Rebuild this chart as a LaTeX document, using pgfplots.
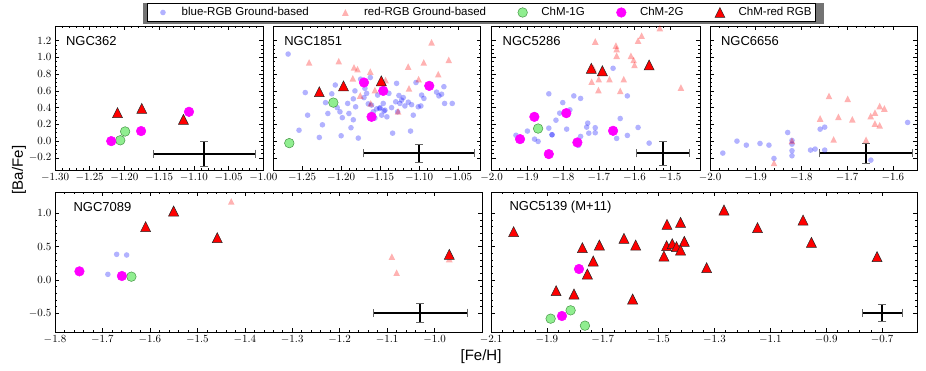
\documentclass[border=0pt]{standalone}
\usepackage{fontspec}
\setmainfont{Liberation Sans}
\usepackage{pgfplots}
\pgfplotsset{compat=1.18}

\definecolor{lgreen}{RGB}{144,238,144}
\definecolor{dgreen}{RGB}{70,150,70}
\definecolor{mag}{RGB}{255,0,255}
\definecolor{pblue}{RGB}{0,0,255}
\definecolor{pred}{RGB}{255,0,0}

% matplotlib-like "^" marker: as wide as it is tall, centred on the point
\pgfdeclareplotmark{mtri}{%
  \pgfpathmoveto{\pgfqpoint{0pt}{\pgfplotmarksize}}%
  \pgfpathlineto{\pgfqpoint{-\pgfplotmarksize}{-\pgfplotmarksize}}%
  \pgfpathlineto{\pgfqpoint{\pgfplotmarksize}{-\pgfplotmarksize}}%
  \pgfpathclose
  \pgfusepathqfillstroke}

\pgfplotsset{
  panel/.style={scale only axis, axis line style={line width=0.7pt},
    tick style={black, line width=0.5pt}, major tick length=4pt, minor tick length=2pt,
    minor x tick num=4,
    tick label style={font=\fontsize{10.5}{12}\selectfont},
    yticklabel style={/pgf/number format/.cd, fixed, fixed zerofill, precision=1}},
  toprow/.style={panel, height=144pt, ymin=-0.345, ymax=1.375,
    ytick={-0.2,0,0.2,0.4,0.6,0.8,1.0,1.2}, minor y tick num=3},
  botrow/.style={panel, height=140pt, ymin=-0.78, ymax=1.32,
    ytick={-0.5,0,0.5,1.0}, minor y tick num=4},
  noylab/.style={yticklabel style={/tikz/opacity=0}},
  twodec/.style={xticklabel style={/pgf/number format/.cd, fixed, fixed zerofill, precision=2}},
  onedec/.style={xticklabel style={/pgf/number format/.cd, fixed, fixed zerofill, precision=1}},
  blueg/.style={only marks, mark=*, mark size=2.8pt,
    mark options={fill=pblue, draw=pblue, fill opacity=0.3, draw opacity=0}},
  redg/.style={only marks, mark=mtri, mark size=3.3pt,
    mark options={fill=pred, draw=pred, fill opacity=0.3, draw opacity=0}},
  chm1/.style={only marks, mark=*, mark size=4.8pt,
    mark options={fill=lgreen, draw=dgreen, line width=0.5pt}},
  chm2/.style={only marks, mark=*, mark size=4.8pt,
    mark options={fill=mag, draw=mag, line width=0.5pt}},
  chmr/.style={only marks, mark=mtri, mark size=5pt,
    mark options={fill=pred, draw=black!85, line width=0.5pt}},
  errb/.style={/pgfplots/every error bar/.append style={line width=2.1pt, black},
    error bars/.cd, x dir=both, x explicit, y dir=both, y explicit,
    error bar style={line width=2.1pt, black},
    error mark options={black!60, line width=0.7pt, mark size=4pt, rotate=90}},
}
\newcommand{\ttl}[2]{\node[anchor=west, font=\fontsize{13}{15}\selectfont, xshift=#1] at (rel axis cs:0,1) [yshift=-15pt] {#2};}

\begin{document}
\begin{tikzpicture}
\path[use as bounding box] (0pt,0pt) rectangle (926pt,370pt);
% legend shadow
\fill[black!55] (142.5pt,345.5pt) rectangle (823.5pt,366.5pt);

% ---------- NGC362 ----------
\begin{axis}[toprow, twodec, at={(55pt,200pt)}, anchor=south west, width=208.3pt,
  xmin=-1.30, xmax=-1.00, xtick={-1.30,-1.25,-1.20,-1.15,-1.10,-1.05,-1.00},
  legend columns=5,
  legend image code/.code={\path[draw=none, fill=none] (0pt,-3pt) rectangle (22pt,3pt); \draw[#1] plot coordinates {(13.5pt,0pt)};},
  legend style={at={(2.0475,1.0938)}, anchor=center, draw=black, line width=0.7pt,
    inner sep=2pt, fill=white,
    font=\fontsize{11.5}{13}\selectfont,
    /tikz/every odd column/.append style={column sep=8.2pt},
    /tikz/every even column/.append style={column sep=21pt}},
]
\addlegendimage{blueg}\addlegendentry{blue-RGB Ground-based}
\addlegendimage{redg}\addlegendentry{red-RGB Ground-based}
\addlegendimage{chm1}\addlegendentry{ChM-1G}
\addlegendimage{chm2}\addlegendentry{ChM-2G}
\addlegendimage{chmr}\addlegendentry{ChM-red RGB}
\addplot[chm1, forget plot] coordinates {(-1.199,0.115) (-1.206,0.01)};
\addplot[chm2, forget plot] coordinates {(-1.107,0.35) (-1.176,0.12) (-1.219,0.0)};
\addplot[chmr, forget plot] coordinates {(-1.21,0.34) (-1.175,0.39) (-1.115,0.26)};
\addplot[forget plot, mark=none, errb] coordinates {(-1.085,-0.15) +- (0.074,0.15)};
\ttl{7.5pt}{NGC362}
\end{axis}

% ---------- NGC1851 ----------
\begin{axis}[toprow, twodec, noylab, at={(273.3pt,200pt)}, anchor=south west, width=207.4pt,
  xmin=-1.287, xmax=-1.021, xtick={-1.25,-1.20,-1.15,-1.10,-1.05}]
\addplot[blueg] coordinates {
(-1.268,1.04) (-1.246,0.58) (-1.243,0.31) (-1.254,0.13) (-1.228,0.044) (-1.224,0.195)
(-1.220,0.46) (-1.217,0.33) (-1.2075,0.67) (-1.212,0.565) (-1.2015,0.35) (-1.1985,0.28)
(-1.200,0.064) (-1.1916,0.45) (-1.190,0.33) (-1.1874,0.16) (-1.1844,0.505) (-1.1823,0.60)
(-1.1844,0.255) (-1.1814,0.41) (-1.178,0.036) (-1.175,0.74) (-1.1707,0.52) (-1.1695,0.63)
(-1.1673,0.57) (-1.1652,0.445) (-1.1626,0.76) (-1.161,0.43) (-1.1588,0.35) (-1.1567,0.275)
(-1.1545,0.385) (-1.1532,0.55) (-1.1506,0.39) (-1.148,0.31) (-1.146,0.45) (-1.1438,0.37)
(-1.1413,0.29) (-1.1387,0.57) (-1.1353,0.40) (-1.134,0.095) (-1.1289,0.69) (-1.1276,0.35)
(-1.1259,0.545) (-1.1246,0.45) (-1.1225,0.49) (-1.1203,0.52) (-1.1182,0.42) (-1.1139,0.465)
(-1.111,0.12) (-1.1096,0.435) (-1.1075,0.31) (-1.1011,0.41) (-1.0977,0.42) (-1.0968,0.55)
(-1.0938,0.51) (-1.0776,0.585) (-1.0746,0.54) (-1.0712,0.56) (-1.0682,0.65) (-1.0673,0.45)
(-1.0575,0.45) (-1.104,0.70) (-1.150,0.40) (-1.145,0.36) (-1.205,0.40) (-1.130,0.47)
};
\addplot[redg] coordinates {
(-1.241,0.94) (-1.203,0.955) (-1.1835,0.88) (-1.179,0.86) (-1.1626,0.83) (-1.185,0.75)
(-1.143,0.73) (-1.084,1.18) (-1.062,0.97) (-1.094,0.94) (-1.114,0.89) (-1.0755,0.80)
(-1.1006,0.74) (-1.113,0.63) (-1.1566,0.61) (-1.1755,0.545) (-1.162,0.45) (-1.127,0.355)
};
\addplot[chm1] coordinates {(-1.2665,-0.024) (-1.210,0.46)};
\addplot[chm2] coordinates {(-1.1707,0.70) (-1.146,0.60) (-1.161,0.29) (-1.087,0.66)};
\addplot[chmr] coordinates {(-1.228,0.59) (-1.197,0.66) (-1.1485,0.72)};
\addplot[forget plot, mark=none, errb] coordinates {(-1.100,-0.147) +- (0.071,0.112)};
\ttl{7.5pt}{NGC1851}
\end{axis}

% ---------- NGC5286 ----------
\begin{axis}[toprow, onedec, noylab, at={(491.7pt,200pt)}, anchor=south west, width=208.3pt,
  xmin=-2.0, xmax=-1.4165, xtick={-2.0,-1.9,-1.8,-1.7,-1.6,-1.5}]
\addplot[blueg] coordinates {
(-1.932,0.07) (-1.900,0.12) (-1.880,0.024) (-1.870,-0.004) (-1.840,0.565) (-1.831,0.076)
(-1.831,0.076) (-1.840,0.155) (-1.820,0.25) (-1.8095,0.334) (-1.801,0.46) (-1.781,0.374)
(-1.790,0.143) (-1.770,0.54) (-1.751,0.51) (-1.757,-0.05) (-1.751,0.056) (-1.731,0.215)
(-1.728,0.095) (-1.710,0.16) (-1.710,0.10) (-1.734,0.167) (-1.660,0.87) (-1.650,0.032)
(-1.640,0.27) (-1.620,0.068) (-1.620,0.54) (-1.590,0.163) (-1.559,-0.024)
};
\addplot[redg] coordinates {
(-1.529,1.35) (-1.710,1.19) (-1.580,1.26) (-1.590,1.20) (-1.652,1.14) (-1.650,1.10)
(-1.650,1.02) (-1.610,1.02) (-1.6025,0.97) (-1.600,0.91) (-1.720,0.71) (-1.700,0.74)
(-1.670,0.74) (-1.630,0.74) (-1.701,0.61) (-1.640,0.60) (-1.470,0.64) (-1.715,0.87)
};
\addplot[chm1] coordinates {(-1.870,0.15)};
\addplot[chm2] coordinates {(-1.8805,0.29) (-1.9206,0.024) (-1.840,-0.155) (-1.791,0.334) (-1.760,-0.016) (-1.660,0.123)};
\addplot[chmr] coordinates {(-1.721,0.87) (-1.690,0.84) (-1.559,0.91)};
\addplot[forget plot, mark=none, errb] coordinates {(-1.52,-0.147) +- (0.074,0.147)};
\ttl{7.5pt}{NGC5286}
\end{axis}

% ---------- NGC6656 ----------
\begin{axis}[toprow, onedec, noylab, at={(710pt,200pt)}, anchor=south west, width=207pt,
  xmin=-2.0, xmax=-1.547, xtick={-2.0,-1.9,-1.8,-1.7,-1.6}]
\addplot[blueg] coordinates {
(-1.972,-0.143) (-1.941,0.0) (-1.9205,-0.048) (-1.8906,-0.028) (-1.871,-0.048) (-1.860,-0.207)
(-1.830,0.103) (-1.8206,0.008) (-1.8206,-0.036) (-1.8206,-0.115) (-1.8206,-0.175)
(-1.780,-0.107) (-1.770,-0.095) (-1.759,0.143) (-1.749,0.167) (-1.749,-0.107)
(-1.648,-0.227) (-1.5675,0.223)
};
\addplot[redg] coordinates {
(-1.860,-0.26) (-1.8206,0.004) (-1.759,0.27) (-1.7396,0.54) (-1.7294,0.02) (-1.719,0.29)
(-1.6988,0.505) (-1.6886,0.26) (-1.6586,0.016) (-1.6484,0.30) (-1.639,0.34) (-1.639,0.21)
(-1.6287,0.42) (-1.6287,0.19) (-1.6185,0.39)
};
\addplot[forget plot, mark=none, errb] coordinates {(-1.6586,-0.147) +- (0.102,0.12)};
\ttl{7.5pt}{NGC6656}
\end{axis}

% ---------- NGC7089 ----------
\begin{axis}[botrow, onedec, at={(55pt,38pt)}, anchor=south west, width=427pt,
  xmin=-1.8, xmax=-0.9, xtick={-1.8,-1.7,-1.6,-1.5,-1.4,-1.3,-1.2,-1.1,-1.0}]
\addplot[blueg] coordinates {(-1.670,0.385) (-1.649,0.375) (-1.6886,0.085)};
\addplot[redg] coordinates {(-1.4285,1.18) (-1.090,0.35) (-1.080,0.11) (-0.969,0.315)};
\addplot[chm1] coordinates {(-1.639,0.05)};
\addplot[chm2] coordinates {(-1.7485,0.13) (-1.659,0.06)};
\addplot[chmr] coordinates {(-1.609,0.80) (-1.550,1.035) (-1.458,0.635) (-0.969,0.385)};
\addplot[forget plot, mark=none, errb] coordinates {(-1.03,-0.49) +- (0.10,0.14)};
\ttl{15pt}{NGC7089}
\end{axis}

% ---------- NGC5139 ----------
\begin{axis}[botrow, onedec, noylab, at={(491pt,38pt)}, anchor=south west, width=426pt,
  xmin=-2.1, xmax=-0.575, xtick={-2.1,-1.9,-1.7,-1.5,-1.3,-1.1,-0.9,-0.7}]
\addplot[chm1] coordinates {(-1.8865,-0.58) (-1.815,-0.455) (-1.7637,-0.685)};
\addplot[chm2] coordinates {(-1.785,0.165) (-1.846,-0.54)};
\addplot[chmr] coordinates {
(-2.019,0.725) (-1.773,0.485) (-1.712,0.525) (-1.734,0.285) (-1.755,0.09) (-1.867,-0.16)
(-1.803,-0.21) (-1.624,0.625) (-1.582,0.525) (-1.470,0.835) (-1.4215,0.865) (-1.4715,0.515)
(-1.451,0.545) (-1.436,0.50) (-1.408,0.58) (-1.4215,0.45) (-1.481,0.36) (-1.328,0.185)
(-1.593,-0.285) (-1.266,1.05) (-1.146,0.785) (-0.983,0.90) (-0.953,0.565) (-0.718,0.35)
};
\addplot[forget plot, mark=none, errb] coordinates {(-0.699,-0.49) +- (0.07,0.125)};
\ttl{15pt}{NGC5139 (M+11)}
\end{axis}

\node[font=\fontsize{15}{17}\selectfont] at (481pt,13pt) {[Fe/H]};
\node[font=\fontsize{15}{17}\selectfont, rotate=90] at (19pt,200pt) {[Ba/Fe]};
\end{tikzpicture}
\end{document}
